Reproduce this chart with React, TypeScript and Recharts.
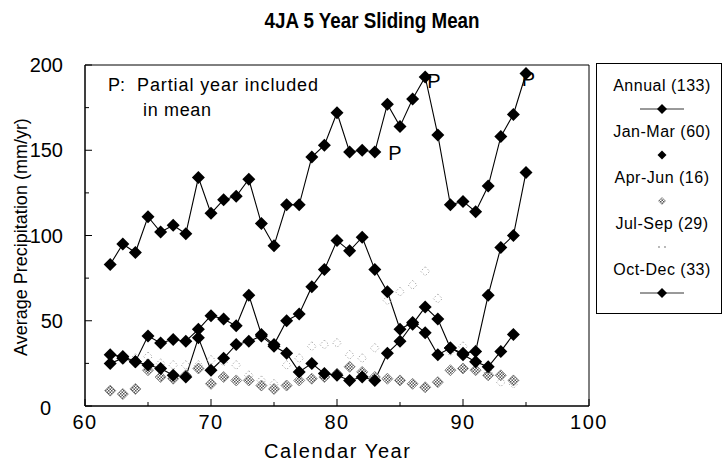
import React from "react";
import { LineChart, Line, XAxis, YAxis, ReferenceArea, ReferenceDot } from "recharts";

// calendar years 1962..1995 (two-digit, as on the axis)
const years = [62, 63, 64, 65, 66, 67, 68, 69, 70, 71, 72, 73, 74, 75, 76, 77, 78, 79, 80, 81, 82, 83, 84, 85, 86, 87, 88, 89, 90, 91, 92, 93, 94, 95];

const annual = [83, 95, 90, 111, 102, 106, 101, 134, 113, 121, 123, 133, 107, 94, 118, 118, 146, 153, 172, 149, 150, 149, 177, 164, 180, 193, 159, 118, 120, 114, 129, 158, 171, 195];
const janMar = [30, 29, 26, 41, 37, 39, 38, 45, 53, 51, 47, 65, 42, 36, 50, 54, 70, 80, 97, 91, 99, 80, 67, 45, 49, 43, 30, 34, 31, 32, 65, 93, 100, 137];
const aprJun = [9, 7, 10, 21, 17, 16, 18, 22, 13, 17, 15, 15, 12, 10, 12, 15, 16, 17, 19, 23, 20, 17, 16, 15, 13, 11, 14, 21, 22, 21, 18, 18, 15, null];
const julSep = [25, 27, 28, 29, 25, 24, 24, 24, 27, 26, 24, 18, 15, 13, 24, 28, 35, 36, 37, 30, 28, 34, 62, 67, 71, 79, 63, 32, 35, 33, 20, 14, 13, null];
const octDec = [25, 28, 26, 24, 22, 18, 17, 40, 21, 28, 36, 38, 41, 35, 31, 20, 25, 19, 18, 15, 17, 15, 31, 38, 48, 58, 51, 34, 30, 26, 23, 32, 42, null];

const legendNames = ["Annual (133)", "Jan-Mar (60)", "Apr-Jun (16)", "Jul-Sep (29)", "Oct-Dec (33)"];

const xTicks = [60, 65, 70, 75, 80, 85, 90, 95, 100];
const yTicks = [0, 25, 50, 75, 100, 125, 150, 175, 200];

// where the "P" (partial year) marks sit
const partialYears = [84.6, 87.7, 95.2];
const partialValues = [148.6, 190.4, 191.6];

const data = years.map((year, i) => ({
  year,
  annual: annual[i],
  janMar: janMar[i],
  aprJun: aprJun[i],
  julSep: julSep[i],
  octDec: octDec[i],
}));

const font = "'Liberation Sans', Arial, sans-serif";

function diamond(cx: number, cy: number, s: number) {
  return `M${cx},${cy - s}L${cx + s},${cy}L${cx},${cy + s}L${cx - s},${cy}Z`;
}

const blackDot = (props: any) => {
  const { cx, cy, index, value } = props;
  if (value == null || cx == null || cy == null) return <g key={index} />;
  return <path key={index} d={diamond(cx, cy, 6.5)} fill="#000" />;
};

const hatchDot = (props: any) => {
  const { cx, cy, index, value } = props;
  if (value == null || cx == null || cy == null) return <g key={index} />;
  return <path key={index} d={diamond(cx, cy, 5.5)} fill="url(#hatch)" stroke="#777" strokeWidth={0.8} />;
};

const faintDot = (props: any) => {
  const { cx, cy, index, value } = props;
  if (value == null || cx == null || cy == null) return <g key={index} />;
  return (
    <path key={index} d={diamond(cx, cy, 4.5)} fill="none" stroke="#aaa" strokeWidth={1} strokeDasharray="1.5 2" />
  );
};

const XTick = (props: any) => {
  const { x, y, payload } = props;
  const v = payload.value;
  const major = v % 10 === 0;
  const base = y - 10;
  return (
    <g>
      <line x1={x} x2={x} y1={base} y2={base - (major ? 7 : 4)} stroke="#000" />
      {major && (
        <text x={x} y={y} dy={13} textAnchor="middle" fontSize={20} letterSpacing={1.5} fontFamily={font} fill="#000">
          {v}
        </text>
      )}
    </g>
  );
};

const YTick = (props: any) => {
  const { x, y, payload } = props;
  const v = payload.value;
  const major = v % 50 === 0;
  const base = x + 22;
  return (
    <g>
      <line x1={base} x2={base + (major ? 7 : 4)} y1={y} y2={y} stroke="#000" />
      {major && (
        <text
          x={v === 0 ? x - 12 : x}
          y={y}
          dy={v === 0 ? 9 : 7}
          textAnchor="end"
          fontSize={20}
          fontFamily={font}
          fill="#000"
        >
          {v}
        </text>
      )}
    </g>
  );
};

function LegendBox() {
  const cx = 662;
  const rows = [85, 131, 177, 223, 269];
  return (
    <g fontFamily={font} fontSize={16} fill="#000">
      <rect x={596.5} y={63.5} width={125} height={250} fill="#fff" stroke="#000" />
      {legendNames.map((name, i) => {
        const ty = rows[i];
        const my = ty + 24;
        return (
          <g key={name}>
            <text x={cx} y={ty + 6} textAnchor="middle" letterSpacing={0.5}>
              {name}
            </text>
            {(i === 0 || i === 4) && <line x1={cx - 22} x2={cx + 22} y1={my} y2={my} stroke="#000" strokeWidth={0.8} />}
            {(i === 0 || i === 4) && <path d={diamond(cx, my, 5)} fill="#000" />}
            {i === 1 && <path d={diamond(cx, my, 4.5)} fill="#000" />}
            {i === 2 && <path d={diamond(cx, my, 3.5)} fill="url(#hatch)" stroke="#777" strokeWidth={0.6} />}
            {i === 3 && (
              <g fill="#999">
                <circle cx={cx - 3} cy={my} r={0.9} />
                <circle cx={cx + 3} cy={my} r={0.9} />
              </g>
            )}
          </g>
        );
      })}
    </g>
  );
}

export default function App() {
  return (
    <div style={{ position: "absolute", left: 0, top: 0, width: 723, height: 465, background: "#fff", fontFamily: font }}>
      <svg width={0} height={0} style={{ position: "absolute" }}>
        <defs>
          <pattern id="hatch" width="3" height="3" patternUnits="userSpaceOnUse">
            <rect width="3" height="3" fill="#fff" />
            <rect width="1.5" height="1.5" fill="#555" />
            <rect x="1.5" y="1.5" width="1.5" height="1.5" fill="#555" />
          </pattern>
        </defs>
      </svg>
      <LineChart width={723} height={465} data={data} margin={{ top: 65, right: 134, left: 25, bottom: 29 }}>
        <XAxis
          dataKey="year"
          type="number"
          domain={[60, 100]}
          ticks={xTicks}
          interval={0}
          tickSize={0}
          tickMargin={10}
          tick={<XTick />}
          axisLine={{ stroke: "#000" }}
          height={30}
        />
        <YAxis
          type="number"
          domain={[0, 200]}
          ticks={yTicks}
          interval={0}
          width={60}
          tickSize={0}
          tickMargin={22}
          tick={<YTick />}
          axisLine={{ stroke: "#000" }}
        />
        <ReferenceArea x1={60} x2={100} y1={0} y2={200} fill="none" stroke="#000" strokeWidth={1} />
        <Line dataKey="julSep" stroke="none" dot={faintDot} activeDot={false} isAnimationActive={false} />
        <Line dataKey="aprJun" stroke="none" dot={hatchDot} activeDot={false} isAnimationActive={false} />
        <Line dataKey="octDec" stroke="#000" strokeWidth={1.1} dot={blackDot} activeDot={false} isAnimationActive={false} />
        <Line dataKey="janMar" stroke="#000" strokeWidth={1.1} dot={blackDot} activeDot={false} isAnimationActive={false} />
        <Line dataKey="annual" stroke="#000" strokeWidth={1.1} dot={blackDot} activeDot={false} isAnimationActive={false} />
        {partialYears.map((py, i) => (
          <ReferenceDot
            key={py}
            x={py}
            y={partialValues[i]}
            r={0}
            label={{ value: "P", position: "center", fontSize: 20, fill: "#000", fontFamily: font }}
          />
        ))}
      </LineChart>
      <svg width={723} height={465} style={{ position: "absolute", left: 0, top: 0, pointerEvents: "none" }}>
        <text
          x={372}
          y={28}
          textAnchor="middle"
          fontSize={22}
          fontWeight="bold"
          fontFamily={font}
          textLength={215}
          lengthAdjust="spacingAndGlyphs"
        >
          4JA 5 Year Sliding Mean
        </text>
        <g fontFamily={font} fontSize={18}>
          <text x={108} y={91}>P:</text>
          <text x={137} y={91} textLength={181} lengthAdjust="spacing">
            Partial year included
          </text>
          <text x={143} y={116} textLength={68} lengthAdjust="spacing">
            in mean
          </text>
        </g>
        <text x={337} y={458} textAnchor="middle" fontSize={20} fontFamily={font} textLength={146} lengthAdjust="spacing">
          Calendar Year
        </text>
        <g transform="rotate(-90)">
          <text x={-237} y={27} textAnchor="middle" fontSize={18} fontFamily={font}>
            Average Precipitation (mm/yr)
          </text>
        </g>
        <LegendBox />
      </svg>
    </div>
  );
}
